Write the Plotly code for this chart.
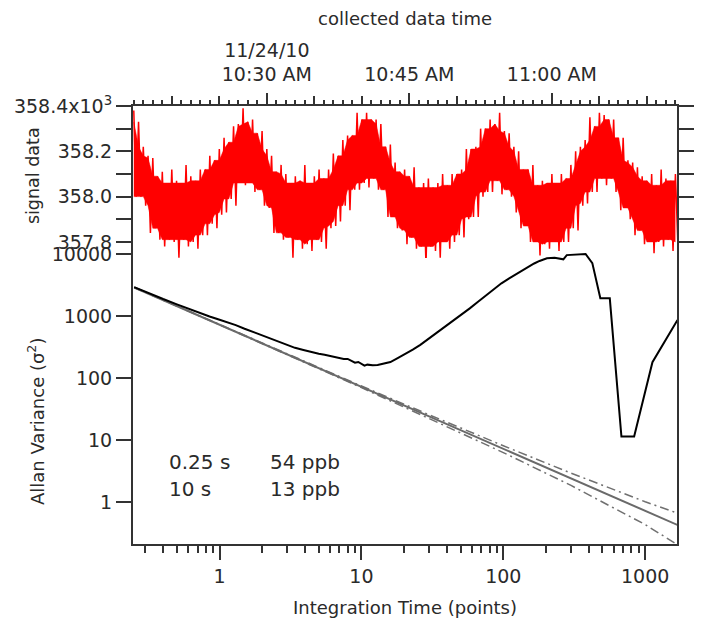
import pandas as pd
import plotly.graph_objects as go

# ---------------- data ----------------
# signal data (thousands), sampled every 30 s from 10:16:00; values are hundredths above 358.000
SIG_START = "2010-11-24 10:16:00"
SIG_HI = [38, 33, 22, 18, 17, 9, 11, 6, 12, 7, 6, 14, 9, 7, 12, 12, 18, 16, 21, 26,
          24, 31, 32, 39, 33, 34, 28, 29, 21, 18, 11, 14, 10, 6, 9, 7, 14, 6, 9, 12,
          8, 12, 19, 18, 25, 27, 27, 37, 34, 37, 34, 34, 32, 22, 23, 15, 11, 12, 9, 13,
          4, 6, 8, 4, 6, 10, 5, 10, 10, 12, 21, 21, 22, 30, 30, 34, 32, 37, 29, 28,
          22, 20, 12, 12, 14, 5, 7, 6, 10, 6, 10, 8, 14, 20, 22, 25, 35, 31, 37, 36,
          34, 34, 26, 26, 16, 15, 13, 9, 7, 10, 5, 12, 8, 7, 10]
SIG_LO = [0, 0, -4, -16, -14, -19, -22, -19, -20, -27, -19, -22, -20, -23, -17, -17, -12, -14, -8, -7,
          -1, -4, 6, 5, 6, 2, 3, -4, -5, -16, -16, -19, -18, -27, -19, -23, -21, -24, -19, -20,
          -23, -14, -13, -11, -4, -6, 3, 3, 6, 4, 8, 3, 3, -9, -9, -14, -15, -21, -18, -23,
          -22, -30, -22, -24, -27, -20, -23, -20, -17, -18, -10, -9, -9, 0, 2, 2, 7, 1, 3, 0,
          -7, -14, -13, -20, -20, -26, -21, -23, -20, -24, -20, -20, -14, -15, -4, -3, 2, 2, 8, 5,
          8, 2, -6, -5, -10, -17, -15, -21, -20, -25, -20, -22, -19, -24, -20]

# Allan variance vs integration time
AV_TAU = [0.25, 0.3, 0.4, 0.5, 0.6, 0.7, 0.85, 1.0, 1.15, 1.3, 1.5, 1.75, 2.0, 2.3, 2.6, 3.0, 3.4, 3.9,
          4.5, 5.0, 5.5, 6.2, 7.0, 7.5, 8.0, 8.5, 9.0, 9.5, 10, 10.5, 11, 12, 13, 14, 15, 16, 18, 20,
          23, 26, 30, 35, 40, 46, 52, 58, 66, 75, 85, 97, 110, 125, 140, 149, 165, 180, 203, 230,
          255, 265, 280, 320, 380, 424, 483, 563, 680, 836, 1125, 1690]
AV_VAR = [2960, 2480, 1900, 1560, 1330, 1170, 990, 880, 800, 720, 630, 550, 490, 440, 395, 340, 310, 285,
          262, 248, 240, 226, 210, 204, 205, 190, 178, 183, 168, 160, 166, 162, 164, 172, 175, 183, 212, 240,
          290, 346, 440, 560, 700, 890, 1100, 1340, 1700, 2150, 2750, 3400, 4100, 4900, 5700, 6300, 7100, 7800, 8600, 8800,
          8500, 8300, 9700, 9900, 10100, 7200, 1950, 1950, 11.5, 11.5, 182, 870]

# white-noise fit line and its bounds
FIT_TAU = [0.25, 1690]
FIT_VAR = [2916, 0.431]
BND_TAU = [0.25, 1, 10, 30, 100, 300, 1000, 1690]
BND_HI = [2916, 729, 75.1, 25.8, 8.16, 2.96, 1.02, 0.668]
BND_LO = [2916, 729, 70.7, 22.6, 6.34, 1.87, 0.437, 0.207]

TIME_TICKS = ["2010-11-24 10:30", "2010-11-24 10:45", "2010-11-24 11:00"]
TIME_LABELS = ["11/24/10<br>10:30 AM", "10:45 AM", "11:00 AM"]
SIG_TICKS = [357.8, 358.0, 358.2, 358.4]
SIG_LABELS = ["357.8", "358.0", "358.2", "358.4x10<sup>3</sup>"]
AV_XTICKS = [1, 10, 100, 1000]
AV_YTICKS = [1, 10, 100, 1000, 10000]

# ---------------- figure ----------------
W, H = 702, 621
L, R, T, B = 133, 8, 106, 77
PW, PH = W - L - R, H - T - B


def px(x):
    return (x - L) / PW


def py(y):
    return (H - B - y) / PH


times = pd.date_range(SIG_START, periods=len(SIG_HI), freq="30s")
half = pd.Timedelta(seconds=15)
hi = [358 + v / 100 for v in SIG_HI]
lo = [358 + v / 100 for v in SIG_LO]
n = len(hi)
core_hi = [min(hi[max(0, i - 1):i + 2]) for i in range(n)]
core_lo = [max(lo[max(0, i - 1):i + 2]) for i in range(n)]
zz_x, zz_y = [], []
for i in range(n):
    zz_x += [times[i], times[i] + half]
    zz_y += [hi[i], lo[i]]

FONT = "DejaVu Sans"
TXT = "#2a2a2a"
AX = "#333333"
RED = "#ff0000"

fig = go.Figure()
fig.add_trace(go.Scatter(x=times, y=core_lo, xaxis="x2", yaxis="y2", mode="lines",
                         line=dict(color=RED, width=0.5), showlegend=False, hoverinfo="skip"))
fig.add_trace(go.Scatter(x=times, y=core_hi, xaxis="x2", yaxis="y2", mode="lines", fill="tonexty",
                         fillcolor=RED, line=dict(color=RED, width=0.5),
                         showlegend=False, hoverinfo="skip"))
fig.add_trace(go.Scatter(x=zz_x, y=zz_y, xaxis="x2", yaxis="y2", mode="lines",
                         line=dict(color=RED, width=1.5), showlegend=False, hoverinfo="skip"))
fig.add_trace(go.Scatter(x=[None], y=[None], xaxis="x3", yaxis="y2", showlegend=False, hoverinfo="skip"))

DASHDOT = "9px,4px,2px,4px"
fig.add_trace(go.Scatter(x=BND_TAU, y=BND_HI, mode="lines",
                         line=dict(color="#707070", width=1.5, dash=DASHDOT), showlegend=False))
fig.add_trace(go.Scatter(x=BND_TAU, y=BND_LO, mode="lines",
                         line=dict(color="#707070", width=1.5, dash=DASHDOT), showlegend=False))
fig.add_trace(go.Scatter(x=FIT_TAU, y=FIT_VAR, mode="lines",
                         line=dict(color="#6a6a6a", width=2), showlegend=False))
fig.add_trace(go.Scatter(x=AV_TAU, y=AV_VAR, mode="lines",
                         line=dict(color="#000000", width=2), showlegend=False))

tickfont = dict(family=FONT, size=19, color=TXT)
top_bot = py(258)
bot_top = py(250)

fig.update_layout(
    width=W, height=H,
    margin=dict(l=L, r=R, t=T, b=B),
    paper_bgcolor="white", plot_bgcolor="rgba(0,0,0,0)",
    font=dict(family=FONT, color=TXT),
    xaxis=dict(type="log", range=[-0.6104, 3.2243], anchor="y", domain=[0, 1],
               tickmode="array", tickvals=AV_XTICKS, ticktext=[str(v) for v in AV_XTICKS],
               ticks="outside", ticklen=14, tickwidth=1.5, tickcolor=AX,
               minor=dict(ticks="outside", ticklen=7, tickwidth=1.5, tickcolor=AX, dtick="D1", showgrid=False),
               showline=True, linecolor=AX, linewidth=2, mirror=False,
               showgrid=False, zeroline=False, tickfont=tickfont),
    yaxis=dict(type="log", range=[-0.6726, 4.069], anchor="x", domain=[0, bot_top],
               tickmode="array", tickvals=AV_YTICKS, ticktext=[str(v) for v in AV_YTICKS],
               ticks="outside", ticklen=15, tickwidth=1.5, tickcolor=AX,
               showline=True, linecolor=AX, linewidth=2, mirror=True,
               showgrid=False, zeroline=False, tickfont=tickfont),
    xaxis2=dict(type="date", range=["2010-11-24 10:15:55", "2010-11-24 11:13:10"], anchor="y2",
                side="top", domain=[0, 1],
                tickmode="linear", tick0="2010-11-24 10:00", dtick=300000,
                ticks="outside", ticklen=8, tickwidth=1.5, tickcolor=AX, showticklabels=False,
                minor=dict(ticks="outside", ticklen=4, tickwidth=1.5, tickcolor=AX, dtick=60000, showgrid=False),
                showline=True, linecolor=AX, linewidth=2, mirror=False,
                showgrid=False, zeroline=False),
    xaxis3=dict(type="date", range=["2010-11-24 10:15:55", "2010-11-24 11:13:10"], anchor="y2",
                overlaying="x2", side="top",
                tickmode="array", tickvals=TIME_TICKS, ticktext=TIME_LABELS,
                ticks="outside", ticklen=12, tickwidth=1.5, tickcolor=AX, ticklabelstandoff=4,
                showline=False, showgrid=False, zeroline=False, tickfont=tickfont),
    yaxis2=dict(range=[357.729, 358.4], anchor="x2", domain=[top_bot, 1],
                tickmode="array", tickvals=SIG_TICKS, ticktext=SIG_LABELS,
                ticks="outside", ticklen=15, tickwidth=1.5, tickcolor=AX,
                minor=dict(ticks="outside", ticklen=8, tickwidth=1.5, tickcolor=AX, dtick=0.1, tick0=357.7, showgrid=False),
                showline=True, linecolor=AX, linewidth=2, mirror="allticks",
                showgrid=False, zeroline=False, tickfont=tickfont),
    showlegend=False,
)

ann = []
ann.append(dict(text="collected data time", x=px(413), y=py(18), xref="paper", yref="paper",
                showarrow=False, xanchor="center", yanchor="middle",
                font=dict(family=FONT, size=18, color=TXT)))
ann.append(dict(text="Integration Time (points)", x=px(414), y=py(607), xref="paper", yref="paper",
                showarrow=False, xanchor="center", yanchor="middle",
                font=dict(family=FONT, size=18, color=TXT)))
ann.append(dict(text="signal data", x=px(30), y=py(176), xref="paper", yref="paper",
                showarrow=False, xanchor="center", yanchor="middle", textangle=-90,
                font=dict(family=FONT, size=17.5, color=TXT)))
ann.append(dict(text="Allan Variance (σ<sup>2</sup>)", x=px(33), y=py(422), xref="paper", yref="paper",
                showarrow=False, xanchor="center", yanchor="middle", textangle=-90,
                font=dict(family=FONT, size=18, color=TXT)))
for txt, xx, yy in [("0.25 s", 168, 462), ("54 ppb", 272, 462), ("10 s", 168, 489), ("13 ppb", 272, 489)]:
    ann.append(dict(text=txt, x=px(xx), y=py(yy), xref="paper", yref="paper",
                    showarrow=False, xanchor="left", yanchor="middle",
                    font=dict(family=FONT, size=20, color=TXT)))
fig.update_layout(annotations=ann)

fig.write_html("out.html")
